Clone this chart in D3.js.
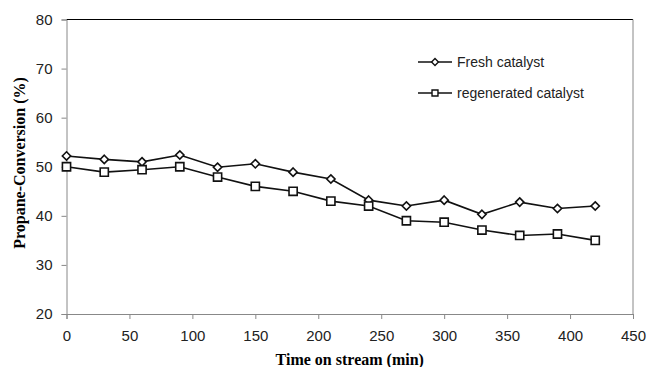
<!DOCTYPE html>
<html>
<head>
<meta charset="utf-8">
<script src="https://cdn.jsdelivr.net/npm/d3@7"></script>
<style>
  body { margin: 0; background: #fff; }
  .tick text { font-family: "Liberation Sans", sans-serif; font-size: 15px; fill: #222; }
</style>
</head>
<body>
<div class="container"></div>
<script>
const times = [0, 30, 60, 90, 120, 150, 180, 210, 240, 270, 300, 330, 360, 390, 420];
const fresh = [52.2, 51.5, 51, 52.4, 49.9, 50.6, 48.9, 47.5, 43.2, 42, 43.2, 40.3, 42.8, 41.5, 42];
const regenerated = [50, 48.9, 49.4, 50, 47.9, 46, 45, 43, 42, 39, 38.7, 37.1, 36, 36.3, 35];
const xTicks = [0, 50, 100, 150, 200, 250, 300, 350, 400, 450];
const yTicks = [20, 30, 40, 50, 60, 70, 80];

const WIDTH = 649;
const HEIGHT = 367;
const LEFT = 66.5, RIGHT = 633, TOP = 19.5, BOTTOM = 314;

var svg = d3.select('.container').append('svg')
    .attr('width', WIDTH)
    .attr('height', HEIGHT);

var xScale = d3.scaleLinear().domain([0, 450]).range([LEFT, RIGHT]);
var yScale = d3.scaleLinear().domain([20, 80]).range([BOTTOM, TOP]);

// plot frame: top black, right grey
svg.append('line')
    .attr('x1', LEFT).attr('x2', RIGHT).attr('y1', TOP).attr('y2', TOP)
    .attr('stroke', '#000').attr('stroke-width', 1);
svg.append('line')
    .attr('x1', RIGHT).attr('x2', RIGHT).attr('y1', TOP).attr('y2', BOTTOM)
    .attr('stroke', '#888').attr('stroke-width', 1);

var xAxis = d3.axisBottom(xScale).tickValues(xTicks).tickSize(5).tickPadding(11);
var yAxis = d3.axisLeft(yScale).tickValues(yTicks).tickSize(5).tickPadding(9);

var gx = svg.append('g')
    .attr('transform', `translate(0, ${BOTTOM})`)
    .call(xAxis);
var gy = svg.append('g')
    .attr('transform', `translate(${LEFT}, 0)`)
    .call(yAxis);

[gx, gy].forEach(g => {
    g.select('.domain').attr('stroke', '#888');
    g.selectAll('.tick line').attr('stroke', '#888');
});

svg.append('text')
    .attr('x', (LEFT + RIGHT) / 2).attr('y', 365)
    .attr('text-anchor', 'middle')
    .style('font-family', '"Liberation Serif", serif')
    .style('font-weight', 'bold').style('font-size', '16px')
    .text('Time on stream (min)');

svg.append('text')
    .attr('transform', 'translate(25, 163) rotate(-90)')
    .attr('text-anchor', 'middle')
    .style('font-family', '"Liberation Serif", serif')
    .style('font-weight', 'bold').style('font-size', '16px')
    .text('Propane-Conversion (%)');

var line = d3.line()
    .x((d, i) => xScale(times[i]))
    .y(d => yScale(d));

var diamond = d3.symbol().type(d3.symbolDiamond2).size(44);
var square = d3.symbol().type(d3.symbolSquare2).size(85);

function drawSeries(values, sym) {
    svg.append('path').datum(values)
        .attr('d', line)
        .attr('fill', 'none')
        .attr('stroke', '#111')
        .attr('stroke-width', 1.6);
    svg.append('g').selectAll('path').data(values)
        .enter().append('path')
        .attr('d', sym)
        .attr('transform', (d, i) => `translate(${xScale(times[i])}, ${yScale(d)})`)
        .attr('fill', '#fff')
        .attr('stroke', '#111')
        .attr('stroke-width', 1.6);
}

drawSeries(fresh, diamond);
drawSeries(regenerated, square);

// legend
var legend = [
    { name: 'Fresh catalyst', sym: d3.symbol().type(d3.symbolDiamond2).size(30), y: 62 },
    { name: 'regenerated catalyst', sym: d3.symbol().type(d3.symbolSquare2).size(45), y: 93 }
];
legend.forEach(l => {
    svg.append('line')
        .attr('x1', 418).attr('x2', 452).attr('y1', l.y).attr('y2', l.y)
        .attr('stroke', '#111').attr('stroke-width', 1.6);
    svg.append('path').attr('d', l.sym)
        .attr('transform', `translate(435, ${l.y})`)
        .attr('fill', '#fff').attr('stroke', '#111').attr('stroke-width', 1.4);
    svg.append('text')
        .attr('x', 457).attr('y', l.y).attr('dy', '0.35em')
        .style('font-family', '"Liberation Sans", sans-serif')
        .style('font-size', '14px').style('fill', '#222')
        .text(l.name);
});
</script>
</body>
</html>
